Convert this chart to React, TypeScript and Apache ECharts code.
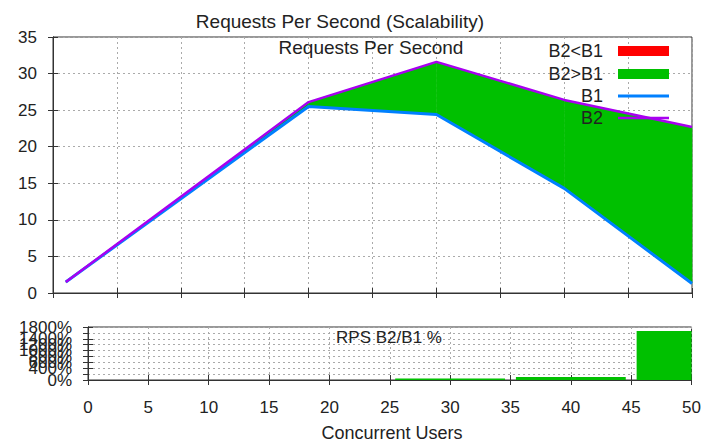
import React, { useEffect, useRef } from "react";
import * as echarts from "echarts";

const users = [1, 20, 30, 40, 50];
const b1 = [1.5, 25.5, 24.4, 14.3, 1.3];
const b2 = [1.5, 26.1, 31.6, 26.4, 22.7];
const ratioPct = [0, 2, 55, 100, 1665];
const topTicks = [0, 35, 5];
const bottomTicks = [0, 1800, 200];
const xTicks = [0, 50, 5];
const legendNames = ["B2<B1", "B2>B1", "B1", "B2"];

const BAR_HALF = 4.55;
const FONT = "'Liberation Sans', Arial, sans-serif";
const TXT = "#222";
const GREEN = "#00c000";
const RED = "#ff0000";
const BLUE = "#0080ff";
const PURPLE = "#a800f0";
const GRIDLINE = { show: true, lineStyle: { color: "#aaa", type: [2, 3] as any, width: 1 } };

export default function App() {
  const ref = useRef<HTMLDivElement>(null);
  useEffect(() => {
    document.body.style.margin = "0";
    const chart = echarts.init(ref.current!, null, { renderer: "svg" });
    const segs: number[][] = [];
    for (let i = 0; i < users.length - 1; i++) {
      segs.push([users[i], b1[i], b2[i], users[i + 1], b1[i + 1], b2[i + 1]]);
    }
    const l1 = users.map((x, i) => [x, b1[i]]);
    const l2 = users.map((x, i) => [x, b2[i]]);
    const bars = users.map((x, i) => [x, ratioPct[i]]);

    const tick = { show: true, inside: true, length: 5, lineStyle: { color: "#333" } };
    const axisLine = { show: true, lineStyle: { color: "#333", width: 1 } };

    const xAx = (gridIndex: number, labels: boolean, position: string, split: boolean) => ({
      type: "value",
      gridIndex,
      position,
      min: xTicks[0],
      max: xTicks[1],
      interval: xTicks[2],
      axisLine,
      axisTick: tick,
      splitLine: split ? GRIDLINE : { show: false },
      axisLabel: labels
        ? { show: true, fontSize: 17, color: TXT, fontFamily: FONT, margin: 19 }
        : { show: false },
    });
    const yAx = (
      gridIndex: number,
      t: number[],
      labels: boolean,
      position: string,
      split: boolean,
      pct?: boolean
    ) => ({
      type: "value",
      gridIndex,
      position,
      min: t[0],
      max: t[1],
      interval: t[2],
      axisLine,
      axisTick: tick,
      splitLine: split ? GRIDLINE : { show: false },
      axisLabel: labels
        ? {
            show: true,
            fontSize: 17,
            color: TXT,
            fontFamily: FONT,
            margin: 16,
            hideOverlap: false,
            showMinLabel: true,
            showMaxLabel: true,
            formatter: pct ? (v: number) => `${v}%` : (v: number) => `${v}`,
          }
        : { show: false },
    });

    const legendY = [51, 74, 96, 118];
    const tx = (text: string, x: number, y: number, size: number, align = "center") => ({
      type: "text",
      x,
      y,
      z: 100,
      style: { text, font: `${size}px ${FONT}`, fill: TXT, align, verticalAlign: "middle" },
    });
    const graphic: any[] = [
      tx("Requests Per Second (Scalability)", 340, 21, 19),
      tx("Requests Per Second", 371, 47, 19),
      tx("RPS B2/B1 %", 389, 337, 17),
      tx("Concurrent Users", 392, 433, 18),
    ];
    legendNames.forEach((n, i) => graphic.push(tx(n, 603, legendY[i], 18, "right")));
    graphic.push({ type: "rect", z: 100, shape: { x: 618, y: legendY[0] - 5, width: 51, height: 10 }, style: { fill: RED } });
    graphic.push({ type: "rect", z: 100, shape: { x: 618, y: legendY[1] - 5, width: 51, height: 10 }, style: { fill: GREEN } });
    graphic.push({
      type: "line",
      z: 100,
      shape: { x1: 618, y1: legendY[2], x2: 669, y2: legendY[2] },
      style: { stroke: BLUE, lineWidth: 3 },
    });
    graphic.push({
      type: "line",
      z: 100,
      shape: { x1: 618, y1: legendY[3], x2: 669, y2: legendY[3] },
      style: { stroke: PURPLE, lineWidth: 2.5 },
    });

    chart.setOption({
      animation: false,
      backgroundColor: "#fff",
      textStyle: { fontFamily: FONT },
      grid: [
        { left: 53, top: 37, right: 12, bottom: 150, show: true, borderColor: "#333", borderWidth: 1 },
        { left: 88, top: 327, right: 11, bottom: 63, show: true, borderColor: "#333", borderWidth: 1 },
      ],
      xAxis: [
        xAx(0, false, "bottom", true),
        xAx(0, false, "top", false),
        xAx(1, true, "bottom", true),
        xAx(1, false, "top", false),
      ],
      yAxis: [
        yAx(0, topTicks, true, "left", true),
        yAx(0, topTicks, false, "right", false),
        yAx(1, bottomTicks, true, "left", true, true),
        yAx(1, bottomTicks, false, "right", false),
      ],
      graphic,
      series: [
        {
          type: "custom",
          name: "fill",
          xAxisIndex: 0,
          yAxisIndex: 0,
          data: segs,
          encode: { x: [0, 3], y: [1, 2, 4, 5] },
          silent: true,
          renderItem: (params: any, api: any) => {
            const x0 = api.value(0), lo0 = api.value(1), hi0 = api.value(2);
            const x1 = api.value(3), lo1 = api.value(4), hi1 = api.value(5);
            const color = hi0 + hi1 >= lo0 + lo1 ? GREEN : RED;
            const pts = [
              api.coord([x0, lo0]),
              api.coord([x1, lo1]),
              api.coord([x1, hi1]),
              api.coord([x0, hi0]),
            ];
            return {
              type: "polygon",
              shape: { points: pts },
              style: { fill: color, stroke: color, lineWidth: 0.5 },
            };
          },
        },
        {
          type: "line",
          name: "B1",
          xAxisIndex: 0,
          yAxisIndex: 0,
          data: l1,
          symbol: "none",
          lineStyle: { color: BLUE, width: 3 },
        },
        {
          type: "line",
          name: "B2",
          xAxisIndex: 0,
          yAxisIndex: 0,
          data: l2,
          symbol: "none",
          lineStyle: { color: PURPLE, width: 2.5 },
        },
        {
          type: "custom",
          name: "RPS B2/B1 %",
          xAxisIndex: 2,
          yAxisIndex: 2,
          data: bars,
          encode: { x: 0, y: 1 },
          renderItem: (params: any, api: any) => {
            const x = api.value(0);
            const v = api.value(1);
            const a = api.coord([x - BAR_HALF, v]);
            const b = api.coord([x + BAR_HALF, 0]);
            const cs = params.coordSys;
            const rect = echarts.graphic.clipRectByRect(
              { x: a[0], y: a[1], width: b[0] - a[0], height: b[1] - a[1] },
              { x: cs.x, y: cs.y, width: cs.width, height: cs.height }
            );
            if (!rect || rect.height <= 0) return null;
            return { type: "rect", shape: rect, style: { fill: GREEN } };
          },
        },
      ],
    });
    return () => chart.dispose();
  }, []);
  return <div ref={ref} style={{ width: 704, height: 443 }} />;
}
